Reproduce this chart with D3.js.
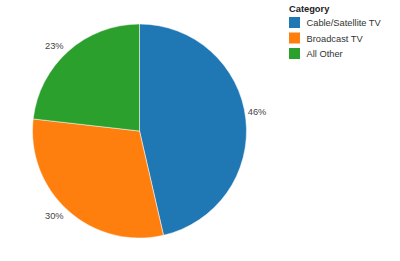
<!DOCTYPE html>
<html>
<head>
<meta charset="utf-8">
<script src="https://cdn.jsdelivr.net/npm/d3@7"></script>
<style>
  body { margin: 0; background: #fff; }
  text { font-family: "Liberation Sans", Arial, sans-serif; }
</style>
</head>
<body>
<svg id="chart" width="400" height="261"></svg>
<script>
// data
const categories = ['Cable/Satellite TV', 'Broadcast TV', 'All Other'];
const shares = [46.4, 30.4, 23.2];
const colors = ['#1f77b4', '#ff7f0e', '#2ca02c'];

const svg = d3.select('#chart');

const cx = 139.5, cy = 131, radius = 107, labelR = 114;

const data = categories.map((c, i) => ({ cat: c, value: shares[i] }));
const total = d3.sum(shares);

const color = d3.scaleOrdinal().domain(categories).range(colors);

const pie = d3.pie().sort(null).value(d => d.value);
const arc = d3.arc().innerRadius(0).outerRadius(radius);
const labelArc = d3.arc().innerRadius(labelR).outerRadius(labelR);

let g = svg.append('g')
  .attr('transform', `translate(${cx},${cy})`);

g.selectAll('.slice').data(pie(data))
  .join('path')
  .attr('class', 'slice')
  .attr('d', arc)
  .attr('fill', d => color(d.data.cat))
  .attr('stroke', '#fff')
  .attr('stroke-width', 0.5);

// labels sit outside the pie, anchored away from it
const midAngle = d => (d.startAngle + d.endAngle) / 2;

g.selectAll('.lbl').data(pie(data))
  .join('text')
  .attr('class', 'lbl')
  .attr('transform', d => `translate(${labelArc.centroid(d)})`)
  .attr('text-anchor', d => midAngle(d) < Math.PI ? 'start' : 'end')
  .attr('dx', d => midAngle(d) < Math.PI ? -5 : 0)
  .attr('dy', d => midAngle(d) < Math.PI ? '-0.3em' : '0.35em')
  .style('font-size', '9.3px')
  .style('fill', '#444')
  .text(d => Math.round(d.data.value / total * 100) + '%');

// legend
let legend = svg.append('g').attr('transform', 'translate(288,0)');

legend.append('text')
  .attr('x', 1)
  .attr('y', 12)
  .style('font-size', '9.3px')
  .style('font-weight', 'bold')
  .style('fill', '#222')
  .text('Category');

let items = legend.selectAll('.item').data(categories)
  .join('g')
  .attr('class', 'item')
  .attr('transform', (d, i) => `translate(0,${17 + i * 15.5})`);

items.append('rect')
  .attr('x', 1)
  .attr('width', 11)
  .attr('height', 11)
  .attr('fill', d => color(d));

items.append('text')
  .attr('x', 18.5)
  .attr('y', 9)
  .style('font-size', '9.3px')
  .style('fill', '#333')
  .text(d => d);
</script>
</body>
</html>
